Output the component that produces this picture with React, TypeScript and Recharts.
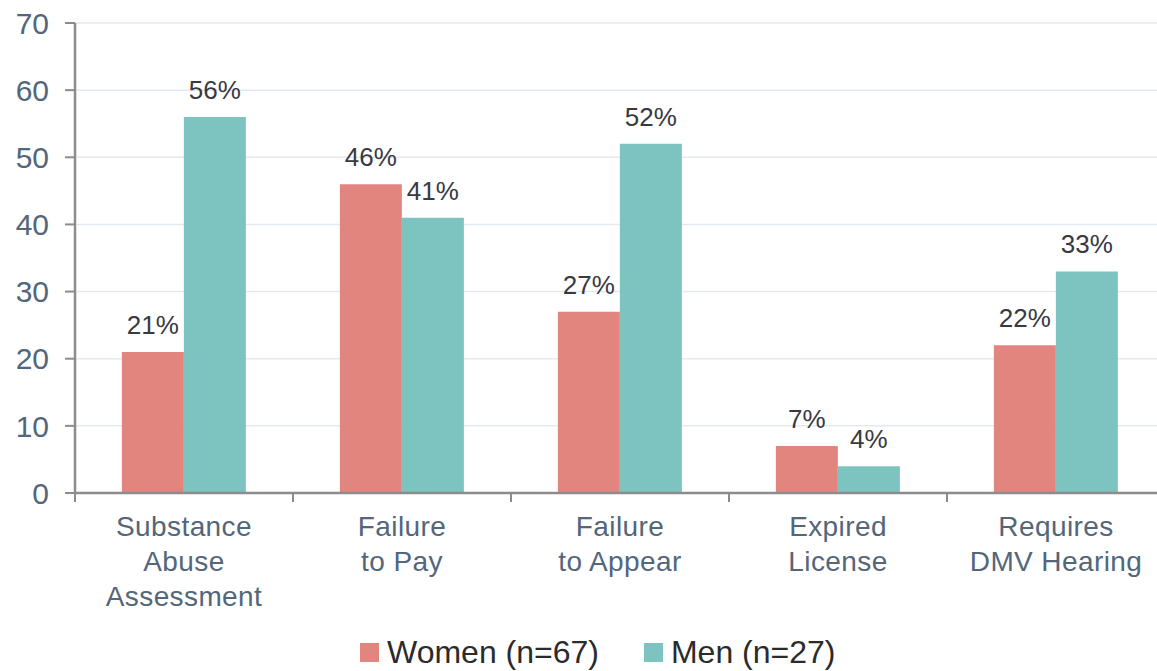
import React from "react";
import { BarChart, Bar, XAxis, YAxis, CartesianGrid, Legend, LabelList } from "recharts";

const categories = [
  "Substance\nAbuse\nAssessment",
  "Failure\nto Pay",
  "Failure\nto Appear",
  "Expired\nLicense",
  "Requires\nDMV Hearing",
];
const women = [21, 46, 27, 7, 22];
const men = [56, 41, 52, 4, 33];
const yTicks = [0, 10, 20, 30, 40, 50, 60, 70];
const seriesNames = { women: "Women (n=67)", men: "Men (n=27)" };
const colors = { women: "#E3857F", men: "#7DC4C0" };

const data = categories.map((c, i) => ({ cat: c, women: women[i], men: men[i] }));

const FONT = "'Liberation Sans', Arial, sans-serif";
const AXIS_TEXT = "#53667a";
const AXIS_LINE = "#8c8c8c";

const XTick = (props: any) => {
  const { x, y, payload } = props;
  const off = payload && typeof payload.offset === "number" ? payload.offset : 109;
  const lines = String(payload.value).split("\n");
  return (
    <g>
      <line x1={x - off} x2={x - off} y1={y - 8} y2={y + 1} stroke={AXIS_LINE} strokeWidth={2} />
      <text x={x} y={y} textAnchor="middle" fill={AXIS_TEXT} fontSize={28} fontFamily={FONT} letterSpacing={0.4}>
        {lines.map((l, i) => (
          <tspan key={i} x={x} dy={35}>
            {l}
          </tspan>
        ))}
      </text>
    </g>
  );
};

const LegendContent = () => (
  <div style={{ display: "flex", alignItems: "center", fontFamily: FONT, fontSize: 32, color: "#2b2b2b", lineHeight: "34px" }}>
    <span style={{ display: "inline-block", width: 19, height: 19, background: colors.women, marginRight: 8 }} />
    <span style={{ marginRight: 45 }}>{seriesNames.women}</span>
    <span style={{ display: "inline-block", width: 19, height: 19, background: colors.men, marginRight: 8 }} />
    <span>{seriesNames.men}</span>
  </div>
);

export default function App() {
  return (
    <div style={{ position: "absolute", left: 0, top: 0, width: 1157, height: 671, overflow: "hidden", background: "#fff" }}>
      <BarChart
        width={1165}
        height={671}
        data={data}
        margin={{ top: 23, right: 0, bottom: 0, left: 0 }}
        barCategoryGap="21.5%"
        barGap={0}
      >
        <CartesianGrid vertical={false} stroke="#e4e9f1" strokeWidth={1.5} />
        <XAxis
          dataKey="cat"
          interval={0}
          height={178}
          tickLine={false}
          tickSize={8}
          tickMargin={0}
          axisLine={{ stroke: AXIS_LINE, strokeWidth: 2.5 }}
          tick={<XTick />}
        />
        <YAxis
          domain={[0, 70]}
          ticks={yTicks}
          width={75}
          tickSize={10}
          tickMargin={16}
          interval={0}
          axisLine={{ stroke: AXIS_LINE, strokeWidth: 2.5 }}
          tickLine={{ stroke: AXIS_LINE, strokeWidth: 2 }}
          tick={{ fill: AXIS_TEXT, fontSize: 30, fontFamily: FONT }}
        />
        <Legend
          layout="horizontal"
          verticalAlign="middle"
          align="center"
          wrapperStyle={{ top: 635, left: 360, width: "auto" }}
          content={<LegendContent />}
        />
        <Bar dataKey="women" name={seriesNames.women} fill={colors.women} isAnimationActive={false}>
          <LabelList
            dataKey="women"
            position="top"
            offset={18}
            formatter={(v: any) => `${v}%`}
            style={{ fill: "#393941", fontSize: 26, fontFamily: FONT }}
          />
        </Bar>
        <Bar dataKey="men" name={seriesNames.men} fill={colors.men} isAnimationActive={false}>
          <LabelList
            dataKey="men"
            position="top"
            offset={18}
            formatter={(v: any) => `${v}%`}
            style={{ fill: "#393941", fontSize: 26, fontFamily: FONT }}
          />
        </Bar>
      </BarChart>
    </div>
  );
}
